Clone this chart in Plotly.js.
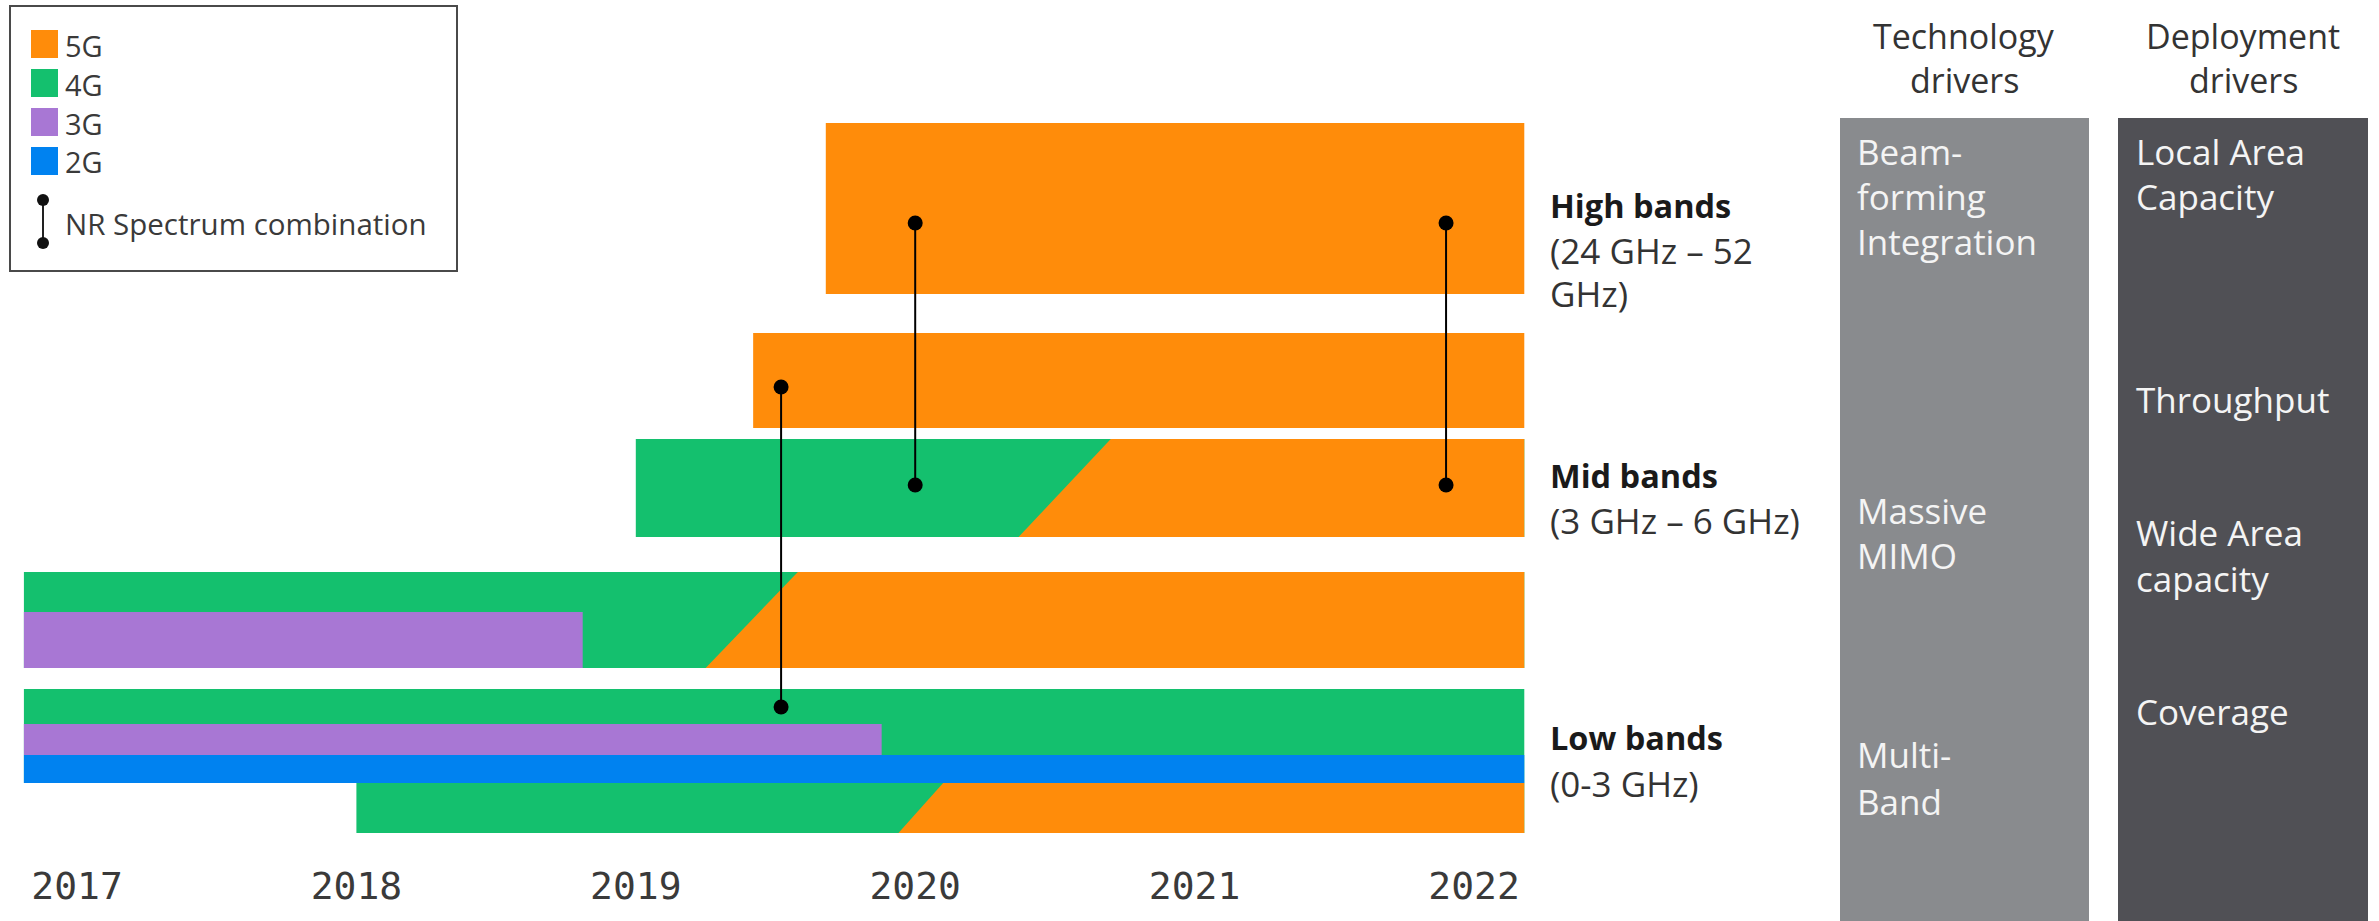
<!DOCTYPE html>
<html>
<head>
<meta charset="utf-8">
<script src="https://cdn.plot.ly/plotly-3.0.1.min.js"></script>
<style>
  html, body { margin: 0; padding: 0; background: #ffffff; }
  #chart { width: 2379px; height: 921px; }
</style>
</head>
<body>
<div id="chart"></div>
<script>
// ---- Data -------------------------------------------------------------
// Timeline tick labels (years)
const tickYears = [2017, 2018, 2019, 2020, 2021, 2022];

// Spectrum lanes, top to bottom
const laneNames = ['high-upper', 'high-lower', 'mid', 'low-1', 'low-2', 'low-3'];
// Technology a lane starts with, when it starts and when the timeline ends
const laneFirstTech = ['5G', '5G', '4G', '4G', '4G', '4G'];
const laneStart = [2019.68, 2019.42, 2019.0, 2016.81, 2016.81, 2018.0];
const laneEnd = [2022.18, 2022.18, 2022.18, 2022.18, 2022.18, 2022.18];
// 4G -> 5G refarming window (start of transition, end of transition); null = none
const refarmFrom = [null, null, 2020.37, 2019.25, null, 2019.94];
const refarmTo = [null, null, 2020.70, 2019.58, null, 2020.10];

// Legacy technologies still sharing a lane
const legacyTech = ['3G', '3G', '2G'];
const legacyLane = ['low-1', 'low-2', 'low-2'];
const legacyStart = [2016.81, 2016.81, 2016.81];
const legacyEnd = [2018.81, 2019.88, 2022.18];

// NR spectrum combinations (year, connected lanes)
const comboYear = [2020.0, 2021.9, 2019.52];
const comboFrom = ['high-upper', 'high-upper', 'high-lower'];
const comboTo = ['mid', 'mid', 'low-2'];

// Legend entries
const legendTechs = ['5G', '4G', '3G', '2G'];

// ---- Styling / layout -----------------------------------------------
const W = 2379, H = 921;
const techColor = { '5G': '#FF8C0A', '4G': '#14C06E', '3G': '#A877D4', '2G': '#0082F0' };

// Vertical placement of each lane (in y-axis units, measured from the top)
const laneGeom = {
  'high-upper': { top: 123, bottom: 294, anchor: 223 },
  'high-lower': { top: 333, bottom: 428, anchor: 387 },
  'mid':        { top: 439, bottom: 537, anchor: 485 },
  'low-1':      { top: 572, bottom: 668 },
  'low-2':      { top: 689, bottom: 783, anchor: 707 },
  'low-3':      { top: 783, bottom: 833 }
};
// Sub-strips used by legacy technologies inside a lane
const legacyStrip = {
  'low-1|3G': [612, 668],
  'low-2|3G': [724, 755],
  'low-2|2G': [755, 783]
};

// x axis: linear years spanning the full figure width
const pxPerYear = 279.4, x2017px = 77;
const yearAt = px => 2017 + (px - x2017px) / pxPerYear;
const plotBottom = 858;

const traces = [];
function band(x0Top, x0Bot, x1, top, bottom, color) {
  traces.push({
    type: 'scatter', mode: 'none', fill: 'toself', fillcolor: color,
    x: [x0Top, x1, x1, x0Bot, x0Top],
    y: [top, top, bottom, bottom, top],
    hoverinfo: 'skip', showlegend: false, line: { width: 0 }
  });
}

// Lanes: base technology, then 5G taking over after the refarming window
laneNames.forEach((name, i) => {
  const g = laneGeom[name];
  band(laneStart[i], laneStart[i], laneEnd[i], g.top, g.bottom, techColor[laneFirstTech[i]]);
  if (refarmFrom[i] !== null) {
    band(refarmTo[i], refarmFrom[i], laneEnd[i], g.top, g.bottom, techColor['5G']);
  }
});

// Legacy 3G / 2G strips
legacyTech.forEach((tech, i) => {
  const s = legacyStrip[legacyLane[i] + '|' + tech];
  band(legacyStart[i], legacyStart[i], legacyEnd[i], s[0], s[1], techColor[tech]);
});

// NR spectrum combinations
comboYear.forEach((yr, i) => {
  traces.push({
    type: 'scatter', mode: 'lines+markers',
    x: [yr, yr],
    y: [laneGeom[comboFrom[i]].anchor, laneGeom[comboTo[i]].anchor],
    line: { color: '#000000', width: 2 },
    marker: { color: '#000000', size: 15 },
    hoverinfo: 'skip', showlegend: false
  });
});

// ---- Helpers for paper-positioned decorations ------------------------
const px = x => x / W;
const py = y => 1 - y / H;
const shapes = [];
const annotations = [];
function rect(x0, y0, x1, y1, fill, lineColor, lineWidth) {
  shapes.push({
    type: 'rect', xref: 'paper', yref: 'paper',
    x0: px(x0), x1: px(x1), y0: py(y0), y1: py(y1),
    fillcolor: fill, line: { color: lineColor || fill, width: lineWidth || 0 }, layer: 'above'
  });
}
function label(text, x, y, opts) {
  opts = opts || {};
  annotations.push({
    text: text, xref: 'paper', yref: 'paper', x: px(x), y: py(y),
    xanchor: opts.xanchor || 'left', yanchor: 'middle', showarrow: false,
    font: {
      family: opts.family || 'Open Sans, sans-serif',
      size: opts.size || 35, color: opts.color || '#333333',
      weight: opts.weight || 'normal'
    }
  });
}

// Legend box
rect(10, 6, 457, 271, 'rgba(0,0,0,0)', '#4a4a4a', 2);
const legendRowY = [44, 83, 122, 161];
legendTechs.forEach((t, i) => {
  rect(31, legendRowY[i] - 14, 58, legendRowY[i] + 14, techColor[t]);
  label(t, 63, legendRowY[i] + 1, { size: 29, color: '#3a3a3a' });
});
shapes.push({ type: 'line', xref: 'paper', yref: 'paper', x0: px(43), x1: px(43), y0: py(200), y1: py(243),
  line: { color: '#222222', width: 2 } });
[200, 243].forEach(y => shapes.push({ type: 'circle', xref: 'paper', yref: 'paper',
  x0: px(37), x1: px(49), y0: py(y - 6), y1: py(y + 6), fillcolor: '#111111', line: { width: 0 } }));
label('NR Spectrum combination', 63, 223, { size: 29.5, color: '#3a3a3a' });

// Band labels
label('<b>High bands</b>', 1548, 205, { color: '#1a1a1a', size: 32.5 });
label('(24 GHz – 52', 1548, 250);
label('GHz)', 1548, 294);
label('<b>Mid bands</b>', 1548, 475, { color: '#1a1a1a', size: 32.5 });
label('(3 GHz – 6 GHz)', 1548, 520);
label('<b>Low bands</b>', 1548, 737, { color: '#1a1a1a', size: 32.5 });
label('(0-3 GHz)', 1548, 783);

// Driver columns
rect(1840, 118, 2089, H + 2, '#898B8E');
rect(2118, 118, 2368, H + 2, '#505055');
label('Technology', 1964, 36, { xanchor: 'center', size: 34 });
label('drivers', 1964, 80, { xanchor: 'center', size: 34 });
label('Deployment', 2243, 36, { xanchor: 'center', size: 34 });
label('drivers', 2243, 80, { xanchor: 'center', size: 34 });

const techLines = [['Beam-', 152], ['forming', 197], ['Integration', 241],
                   ['Massive', 510], ['MIMO', 555], ['Multi-', 754], ['Band', 801]];
techLines.forEach(([t, y]) => label(t, 1855, y, { color: '#f4f4f4' }));
const deployLines = [['Local Area', 152], ['Capacity', 197], ['Throughput', 399],
                     ['Wide Area', 532], ['capacity', 578], ['Coverage', 711]];
deployLines.forEach(([t, y]) => label(t, 2134, y, { color: '#f4f4f4' }));

const layout = {
  width: W, height: H,
  margin: { l: 0, r: 0, t: 0, b: 0 },
  paper_bgcolor: '#ffffff', plot_bgcolor: '#ffffff',
  showlegend: false,
  xaxis: {
    range: [yearAt(0), yearAt(W)], domain: [0, 1],
    tickvals: tickYears, ticktext: tickYears.map(String),
    ticks: '', showgrid: false, zeroline: false, showline: false,
    tickfont: { family: 'DejaVu Sans Mono, monospace', size: 38, color: '#3a3a3a' },
    ticklabelstandoff: 2, fixedrange: true
  },
  yaxis: {
    range: [plotBottom, 0], domain: [1 - plotBottom / H, 1],
    visible: false, showgrid: false, zeroline: false, fixedrange: true
  },
  shapes: shapes,
  annotations: annotations
};

Plotly.newPlot('chart', traces, layout, { displayModeBar: false, staticPlot: true });
</script>
</body>
</html>
